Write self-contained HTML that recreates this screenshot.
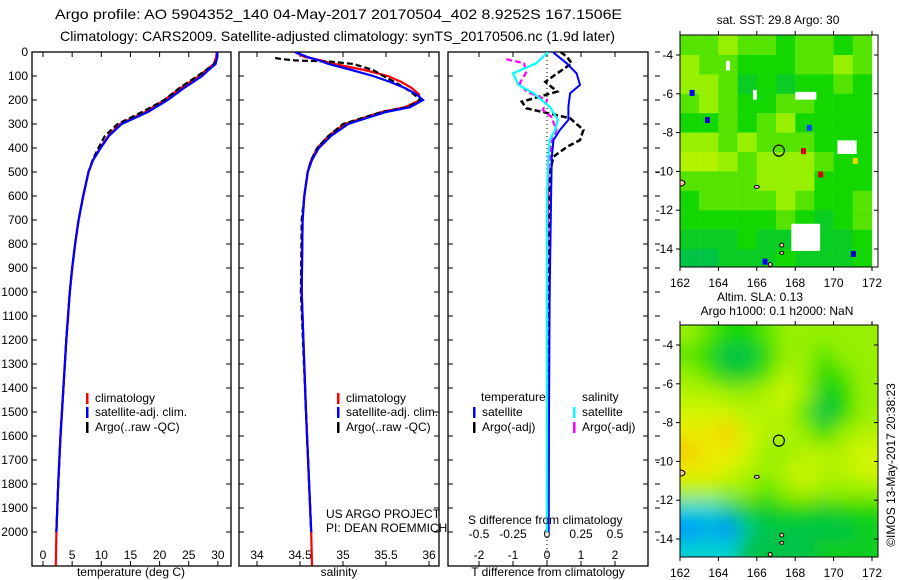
<!DOCTYPE html>
<html><head><meta charset="utf-8">
<style>
html,body{margin:0;padding:0;background:#fff;}
svg{display:block;font-family:"Liberation Sans",sans-serif;}
text{fill:#000;}
</style></head>
<body>
<svg id="fig" width="900" height="580" viewBox="0 0 900 580" xmlns="http://www.w3.org/2000/svg">
<defs>
<filter id="blur" x="0" y="0" width="100%" height="100%"><feGaussianBlur stdDeviation="9"/></filter>
<clipPath id="c1"><rect x="32" y="52" width="199" height="514"/></clipPath>
<clipPath id="c2"><rect x="239" y="52" width="200" height="514"/></clipPath>
<clipPath id="c3"><rect x="448" y="52" width="200" height="514"/></clipPath>
<clipPath id="cm1"><rect x="680" y="35" width="198" height="232"/></clipPath>
<clipPath id="cm2"><rect x="680" y="325" width="198" height="232"/></clipPath>
</defs>
<text x="55" y="19" font-size="14" textLength="567" lengthAdjust="spacingAndGlyphs">Argo profile: AO 5904352_140 04-May-2017 20170504_402 8.9252S 167.1506E</text>
<text x="60" y="41" font-size="14" textLength="555" lengthAdjust="spacingAndGlyphs">Climatology: CARS2009. Satellite-adjusted climatology: synTS_20170506.nc (1.9d later)</text>
<g id="p1"></g>
<g id="p2"></g>
<g id="p3"></g>
<g id="m1"></g>
<g id="m2"></g>
<g id="txt"></g>
</svg>
<script>
// ---- profile data ----
const depthT=[0,20,50,75,100,150,200,250,300,350,400,450,500,600,700,800,900,1000,1200,1400,1600,1800,2000,2140];
const tempClim=[29.8,29.7,29.3,28.0,26.8,23.6,20.8,17.5,13.2,11.2,9.8,8.6,7.8,6.9,6.1,5.5,5.0,4.6,4.0,3.5,3.0,2.6,2.3,2.2];
const tempSat=[29.9,29.9,29.6,28.4,27.3,24.2,21.4,18.0,13.5,11.3,9.9,8.6,7.8,6.9,6.1,5.5,5.0,4.6,4.0,3.5,3.0,2.6,2.3];
const tempArgo=[29.9,29.9,29.4,28.0,26.5,23.4,20.8,17.0,12.8,10.6,9.5,8.5,7.8,6.9,6.1,5.5,5.0,4.6,4.0,3.5,3.0,2.6,2.3];
const depthS=[0,20,35,50,75,100,125,150,175,200,230,250,300,350,400,450,500,600,700,1000,1500,2000,2140];
const salClim=[34.44,34.55,34.75,34.9,35.25,35.52,35.68,35.8,35.88,35.9,35.72,35.45,35.02,34.83,34.7,34.63,34.59,34.55,34.53,34.52,34.57,34.63,34.64];
const salSat=[34.44,34.58,34.72,34.83,35.1,35.35,35.55,35.72,35.85,35.93,35.78,35.5,35.06,34.86,34.72,34.64,34.59,34.55,34.53,34.52,34.57,34.63];
const depthSA=[25,30,35,40,50,75,100,125,150,175,200,230,250,300,350,400,450,500,600,700,1000,1500,2000];
const salArgo=[34.21,34.3,34.44,34.85,35.12,35.35,35.47,35.6,35.72,35.82,35.9,35.75,35.45,35.0,34.83,34.7,34.63,34.59,34.55,34.52,34.51,34.57,34.63];
const depthD=[0,5,47,89,137,172,228,283,325,367,436,600,1000,1500,2000];
const dTSat=[0.2,0.21,0.58,0.87,0.97,0.68,0.63,0.63,0.38,0.19,0.14,0.12,0.08,0.06,0.05];
const dSSat=[0,0,-0.08,-0.25,-0.21,-0.1,0.02,0.08,0.06,0.02,0.01,0,0,0,0];
const depthDTA=[0,19,47,89,124,165,207,235,276,325,367,394,436,492,600,1000,1500,2000];
const dTArgo=[0.4,0.58,0.73,0.3,-0.05,0.3,-0.74,-0.6,0.68,1.07,0.97,0.6,0.19,0.1,0.05,0.04,0.03,0.03];
const depthDSA=[30,47,82,130,165,200,242,269,325,380,500,1000,1500,2000];
const dSArgo=[-0.3,-0.17,-0.15,-0.2,-0.15,0,-0.03,0.03,0.07,0.03,0.01,0,0,0];
const depthTicks=[0,100,200,300,400,500,600,700,800,900,1000,1100,1200,1300,1400,1500,1600,1700,1800,1900,2000];
const tTicks=[0,5,10,15,20,25,30];
const sTicks=[34,34.5,35,35.5,36];
const tdTicks=[-2,-1,0,1,2];
const sdTickLabels=["-0.5","-0.25","0","0.25","0.5"];
const sdTicks=[-0.5,-0.25,0,0.25,0.5];
// ---- map data (value index into colormap) ----
const mapLons=[162.5,163.5,164.5,165.5,166.5,167.5,168.5,169.5,170.5,171.5];
const mapLats=[-3.5,-4.5,-5.5,-6.5,-7.5,-8.5,-9.5,-10.5,-11.5,-12.5,-13.5,-14.5];
const sstGrid=[
[5.5,5.5,6,5.5,5.5,5,5.5,5.5,5,5.5],
[6,5.5,5.5,5,5,5,5.5,5.5,6,5.5],
[6,6,5.5,4.5,5,4.5,5,5,5.5,5],
[5.5,6,5.5,5,5,5.5,5.5,5,5,5],
[5,5,5.5,5,5.5,6,5,5,5,5],
[6,6,5.5,6,5.5,5.5,5.5,5,5,5],
[6.5,6.5,6,5.5,6,6,6,5.5,5,5],
[5.5,5.5,5.5,5.5,6,6,6,5,5,5],
[5,5.5,5.5,5.5,5.5,6,5.5,5,5,5.5],
[5,5,5,5,5,5.5,5,4.5,5,5.5],
[4.5,4.5,4.5,5,4.5,4.5,5,4.5,4.5,5],
[4,4,4.5,4.5,4.5,5,4.5,4.5,4.5,5]];
const slaGrid=[
[6,5.5,5,5,5.5,6,6,6,6,6],
[5.5,5,4,4,5,6,6,5.5,6,6],
[6,5.5,4.5,4.5,5.5,6.5,6,5,5.5,6],
[6.5,6.5,6,6,6.5,7,6,4.5,5,6],
[7,7,7,6.5,6.5,6.5,5.5,4,5,6],
[7.5,7.5,8,7,6.5,6.5,6,5,6,6.5],
[8,7.5,7.5,7,6,6,6.5,6.5,6.5,7],
[7.5,7.5,7,6.5,6,6.5,7,6.5,6.5,7],
[6.5,6.5,6,6,5.5,6,6.5,6,6,6],
[3,3,3.5,4.5,4.5,5,5,4.5,5,5],
[2,2.5,2,3.5,4,4,4,4,4,4.5],
[3,3,3,4,4,4,4,4.5,4.5,4.5]];
const mapXTicks=[162,164,166,168,170,172];
const mapYTicks=[-4,-6,-8,-10,-12,-14];
const sstSpots=[[168.3,-8.8,9.5],[169.2,-10,9.5],[168.6,-7.6,1.5],[163.3,-7.2,0.5],[162.5,-5.8,1],[171,-9.3,7.8],[166.3,-14.5,1],[170.9,-14.1,0.5]];
const sstGaps=[[168,-5.9,1.1,0.4],[167.8,-12.7,1.5,1.4],[170.2,-8.4,1,0.7],[164.4,-4.3,0.2,0.5],[165.8,-5.8,0.2,0.5]];
const argoLon=167.15, argoLat=-8.93;

const NS='http://www.w3.org/2000/svg';
function mk(tag,attrs,parent,txt){const e=document.createElementNS(NS,tag);for(const k in attrs)e.setAttribute(k,attrs[k]);if(txt!==undefined)e.textContent=txt;parent.appendChild(e);return e;}
const yD=d=>52+0.24*d;
const xT=t=>43+5.83*t;
const xS=s=>257+86*(s-34);
const xDT=t=>547+34*t;
const xDS=s=>547+136*s;
function line(par,xs,ds,fx,col,w,dash,name,clip){
  const pts=xs.map((v,i)=>fx(v).toFixed(1)+','+yD(ds[i]).toFixed(1)).join(' ');
  const a={points:pts,fill:'none',stroke:col,'stroke-width':w,'clip-path':'url(#'+clip+')'};
  if(dash)a['stroke-dasharray']=dash;
  const p=mk('polyline',a,par);
  
  
}
function frame(par,x0,x1,name){
  const r=mk('rect',{x:x0,y:52,width:x1-x0,height:514,fill:'none',stroke:'#000','stroke-width':1.3},par);
  
  
  depthTicks.forEach(d=>{const y=yD(d);mk('line',{x1:x0,x2:x0+5,y1:y,y2:y,stroke:'#000'},par);mk('line',{x1:x1-5,x2:x1,y1:y,y2:y,stroke:'#000'},par);});
}
const p1=document.getElementById('p1'),p2=document.getElementById('p2'),p3=document.getElementById('p3');
frame(p1,32,231,'temperature-frame');frame(p2,239,439,'salinity-frame');frame(p3,448,648,'difference-frame');
depthTicks.forEach(d=>{const t=mk('text',{x:28,y:yD(d)+4,'font-size':12,'text-anchor':'end'},p1,String(d));});
function xticks(par,ticks,fx,labels,ylab){ticks.forEach((v,i)=>{const x=fx(v);mk('line',{x1:x,x2:x,y1:52,y2:57,stroke:'#000'},par);mk('line',{x1:x,x2:x,y1:561,y2:566,stroke:'#000'},par);
 const t=mk('text',{x:x,y:ylab,'font-size':12,'text-anchor':'middle'},par,labels[i]);});}
xticks(p1,tTicks,xT,tTicks.map(String),559);
xticks(p2,sTicks,xS,sTicks.map(String),559);
xticks(p3,tdTicks,xDT,tdTicks.map(String),559);
sdTicks.forEach((v,i)=>{const t=mk('text',{x:xDS(v),y:538,'font-size':12,'text-anchor':'middle'},p3,sdTickLabels[i]);});
depthTicks.forEach(d=>{const y=yD(d);mk('line',{x1:655,x2:660,y1:y,y2:y,stroke:'#000'},p3);});
mk('line',{x1:xDT(0),x2:xDT(0),y1:52,y2:566,stroke:'#000','stroke-dasharray':'1,3'},p3);
line(p1,tempClim,depthT,xT,'#f00',2.2,null,'temp-climatology-line','c1');
line(p1,tempArgo,depthT,xT,'#000',2.2,'6,3','temp-argo-line','c1');
line(p1,tempSat,depthT,xT,'#00f',2.2,null,'temp-satellite-line','c1');
line(p2,salClim,depthS,xS,'#f00',2.2,null,'sal-climatology-line','c2');
line(p2,salArgo,depthSA,xS,'#000',2.2,'6,3','sal-argo-line','c2');
line(p2,salSat,depthS,xS,'#00f',2.2,null,'sal-satellite-line','c2');
line(p3,dTArgo,depthDTA,xDT,'#000',2.5,'6,3','tdiff-argo-line','c3');
line(p3,dSArgo,depthDSA,xDS,'#f0f',2.2,'6,3','sdiff-argo-line','c3');
line(p3,dTSat,depthD,xDT,'#00f',2,null,'tdiff-satellite-line','c3');
line(p3,dSSat,depthD,xDS,'#0ff',2.2,null,'sdiff-satellite-line','c3');
function leg(par,x,y,col,label,name){mk('rect',{x:x,y:y-9,width:2.5,height:11,fill:col},par);const t=mk('text',{x:x+9,y:y,'font-size':12},par,label);}
leg(p1,86,402,'#f00','climatology','legend-climatology');
leg(p1,86,416,'#00f','satellite-adj. clim.','legend-satellite');
leg(p1,86,431,'#000','Argo(..raw -QC)','legend-argo');
leg(p2,337,402,'#f00','climatology','legend-climatology');
leg(p2,337,416,'#00f','satellite-adj. clim.','legend-satellite');
leg(p2,337,431,'#000','Argo(..raw -QC)','legend-argo');
let tt=mk('text',{x:481,y:401,'font-size':12},p3,'temperature');
tt=mk('text',{x:582,y:401,'font-size':12},p3,'salinity');
leg(p3,473,416,'#00f','satellite','legend-t-satellite');
leg(p3,473,431,'#000','Argo(-adj)','legend-t-argo');
leg(p3,573,416,'#0ff','satellite','legend-s-satellite');
leg(p3,573,431,'#f0f','Argo(-adj)','legend-s-argo');
const TX=document.getElementById('txt');
function T(x,y,s,name,extra){const a={x:x,y:y,'font-size':12};for(const k in (extra||{}))a[k]=extra[k];const t=mk('text',a,TX,s);return t;}
T(326,518,'US ARGO PROJECT','project-label');
T(326,532,'PI: DEAN ROEMMICH','pi-label');
T(468,524,'S difference from climatology','s-diff-axis-title');
T(131,576,'temperature (deg C)','x-axis-title-temperature',{'text-anchor':'middle'});
T(339,576,'salinity','x-axis-title-salinity',{'text-anchor':'middle'});
T(548,576,'T difference from climatology','x-axis-title-tdiff',{'text-anchor':'middle'});
const stops=[[0,[0,0,140]],[1,[0,0,255]],[2,[0,140,255]],[3,[0,210,210]],[4,[0,195,70]],[5,[20,215,0]],[6,[150,240,0]],[7,[210,245,0]],[7.5,[235,235,0]],[8.5,[255,170,0]],[9.5,[215,0,0]],[10,[140,0,0]]];
function cmap(v){for(let i=1;i<stops.length;i++){if(v<=stops[i][0]){const a=stops[i-1],b=stops[i],f=(v-a[0])/(b[0]-a[0]);return 'rgb('+a[1].map((c,k)=>Math.round(c+(b[1][k]-c)*f)).join(',')+')';}}return 'rgb(140,0,0)';}
function drawMap(gid,y0,grid,clip,blur,title,title2,spots,gaps){
  const g=document.getElementById(gid);
  const mx=l=>680+(l-162)*19.2, my=l=>y0+20+(-4-l)*19.4;
  const cg=mk('g',{'clip-path':'url(#'+clip+')'},g);
  const ig=mk('g',blur?{filter:'url(#blur)'}:{},cg);
  mapLats.forEach((lat,r)=>mapLons.forEach((lon,c)=>{
    const e=mk('rect',{x:mx(lon-0.5)-(blur?20:0)*(c==0),y:my(lat+0.5)-(blur?20:0)*(r==0),width:19.4+(blur?20:0)*((c==0)+(c==9)),height:19.6+(blur?20:0)*((r==0)+(r==11)),fill:cmap(grid[r][c])},ig);
    
    
  }));
  (spots||[]).forEach(s=>{const e=mk('rect',{x:mx(s[0]),y:my(s[1]),width:5,height:6,fill:cmap(s[2])},cg);});
  (gaps||[]).forEach(s=>{const e=mk('rect',{x:mx(s[0]),y:my(s[1]),width:s[2]*19.2,height:s[3]*19.4,fill:'#fff'},cg);});
  [[162,-10.6,10,6],[166,-10.8,5,3],[167.3,-13.8,4,4],[166.7,-14.8,4,4],[167.3,-14.2,4,3]].forEach(s=>{const e=mk('ellipse',{cx:mx(s[0]),cy:my(s[1]),rx:s[2]/2,ry:s[3]/2,fill:'#f5c6a0',stroke:'#000','stroke-width':1},cg);});
  const c=mk('circle',{cx:mx(argoLon),cy:my(argoLat),r:5.5,fill:'none',stroke:'#000','stroke-width':1.2},g);
  
  const f=mk('rect',{x:680,y:y0,width:198,height:232,fill:'none',stroke:'#000','stroke-width':1},g);
  
  mapXTicks.forEach(l=>{const x=mx(l);mk('line',{x1:x,x2:x,y1:y0-4,y2:y0,stroke:'#000'},g);mk('line',{x1:x,x2:x,y1:y0+232,y2:y0+236,stroke:'#000'},g);
    const t=mk('text',{x:x,y:y0+252,'font-size':12,'text-anchor':'middle'},g,String(l));});
  mapYTicks.forEach(l=>{const y=my(l);mk('line',{x1:676,x2:680,y1:y,y2:y,stroke:'#000'},g);mk('line',{x1:874,x2:878,y1:y,y2:y,stroke:'#000'},g);
    const t=mk('text',{x:673,y:y+4,'font-size':12,'text-anchor':'end'},g,String(l));});
  let t=mk('text',{x:title2?760:778,y:title2?y0-24:y0-11,'font-size':12,'text-anchor':'middle'},g,title);
  if(title2){t=mk('text',{x:777,y:y0-10,'font-size':12,'text-anchor':'middle'},g,title2);}
}
drawMap('m1',35,sstGrid,'cm1',false,'sat. SST: 29.8 Argo: 30',null,sstSpots,sstGaps);
drawMap('m2',325,slaGrid,'cm2',true,'Altim. SLA: 0.13','Argo h1000: 0.1 h2000: NaN',[],[]);
T(895,465,'©IMOS 13-May-2017 20:38:23','imos-timestamp',{'text-anchor':'middle',transform:'rotate(-90 895 465)'});
</script>
</body></html>
